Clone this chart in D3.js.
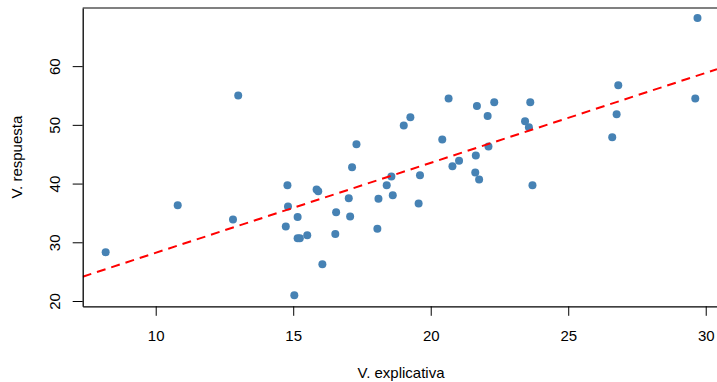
<!DOCTYPE html>
<html>
<head>
<meta charset="utf-8">
<script src="https://cdn.jsdelivr.net/npm/d3@7"></script>
<style>
  body { margin: 0; background: #fff; }
  svg { display: block; font-family: "Liberation Sans", Arial, Helvetica, sans-serif; }
</style>
</head>
<body>
<svg id="chart" width="717" height="382"></svg>
<script>
// valores
const explicativa = [8.18, 10.8, 12.81, 13.0, 14.79, 14.81, 14.73, 15.16, 15.16, 15.24,
  15.51, 15.04, 15.85, 15.91, 16.06, 16.56, 16.53, 17.02, 17.07, 17.14,
  17.3, 18.06, 18.1, 18.4, 18.57, 18.62, 19.56, 19.61, 19.02, 19.26,
  20.42, 20.65, 20.79, 21.03, 21.62, 21.64, 21.68, 21.76, 22.07, 22.1,
  22.31, 23.43, 23.57, 23.62, 23.7, 26.6, 26.76, 26.82, 29.62, 29.7];
const respuesta = [28.3, 36.3, 33.9, 55.0, 39.7, 36.1, 32.7, 34.3, 30.7, 30.7,
  31.2, 21.0, 39.0, 38.7, 26.25, 35.1, 31.4, 37.5, 34.4, 42.8,
  46.7, 32.3, 37.4, 39.7, 41.2, 38.0, 36.6, 41.4, 49.9, 51.3,
  47.5, 54.5, 42.95, 43.9, 41.9, 44.8, 53.2, 40.7, 51.5, 46.3,
  53.85, 50.6, 49.6, 53.85, 39.7, 47.9, 51.8, 56.75, 54.5, 68.2];
// recta de regresion (intercepto, pendiente)
const recta = { a: 12.89, b: 1.532 };
const xTicks = [10, 15, 20, 25, 30];
const yTicks = [20, 30, 40, 50, 60];

const svg = d3.select("#chart");
const mLeft = 82.7, mRight = 717, mTop = 8, mBottom = 306.3;

const x = d3.scaleLinear().domain([7.345, 30.41]).range([mLeft, mRight]);
const y = d3.scaleLinear().domain([19.1, 69.9]).range([mBottom, mTop]);

svg.append("defs").append("clipPath").attr("id", "clip")
  .append("rect")
  .attr("x", mLeft).attr("y", mTop)
  .attr("width", mRight - mLeft).attr("height", mBottom - mTop);

// borde superior gris
svg.append("line")
  .attr("x1", mLeft).attr("x2", mRight)
  .attr("y1", mTop).attr("y2", mTop)
  .attr("stroke", "#808080")
  .attr("stroke-width", 2);

// puntos
svg.append("g")
  .selectAll("circle")
  .data(explicativa.map((d, i) => [d, respuesta[i]]))
  .join("circle")
  .attr("cx", d => x(d[0]))
  .attr("cy", d => y(d[1]))
  .attr("r", 4)
  .attr("fill", "steelblue");

// linea de regresion
svg.append("line")
  .attr("clip-path", "url(#clip)")
  .attr("x1", x(7.345)).attr("y1", y(recta.a + recta.b * 7.345))
  .attr("x2", x(30.41)).attr("y2", y(recta.a + recta.b * 30.41))
  .attr("stroke", "red")
  .attr("stroke-width", 2)
  .attr("stroke-dasharray", "9,6");

// eje x
let gx = svg.append("g")
  .attr("transform", `translate(0,${mBottom})`)
  .call(d3.axisBottom(x).tickValues(xTicks).tickSize(9.5).tickSizeOuter(0).tickPadding(15));
gx.selectAll("text").attr("font-size", 15).attr("fill", "#000");
gx.selectAll("line, path").attr("stroke", "#000");
gx.select(".domain").attr("stroke-width", 1.3);

// eje y
let gy = svg.append("g")
  .attr("transform", `translate(${mLeft},0)`)
  .call(d3.axisLeft(y).tickValues(yTicks).tickSize(10).tickSizeOuter(0));
gy.selectAll("text")
  .attr("x", null).attr("dy", "0.35em")
  .attr("text-anchor", "middle")
  .attr("transform", "translate(-28,0) rotate(-90)")
  .attr("font-size", 15).attr("fill", "#000");
gy.selectAll("line, path").attr("stroke", "#000");
gy.select(".domain").attr("stroke-width", 1.3);

// titulos
svg.append("text")
  .text("V. explicativa")
  .attr("x", 401).attr("y", 378)
  .attr("text-anchor", "middle")
  .attr("font-size", 15);

svg.append("text")
  .text("V. respuesta")
  .attr("transform", `translate(22,${(mTop + mBottom) / 2}) rotate(-90)`)
  .attr("text-anchor", "middle")
  .attr("font-size", 15);
</script>
</body>
</html>
